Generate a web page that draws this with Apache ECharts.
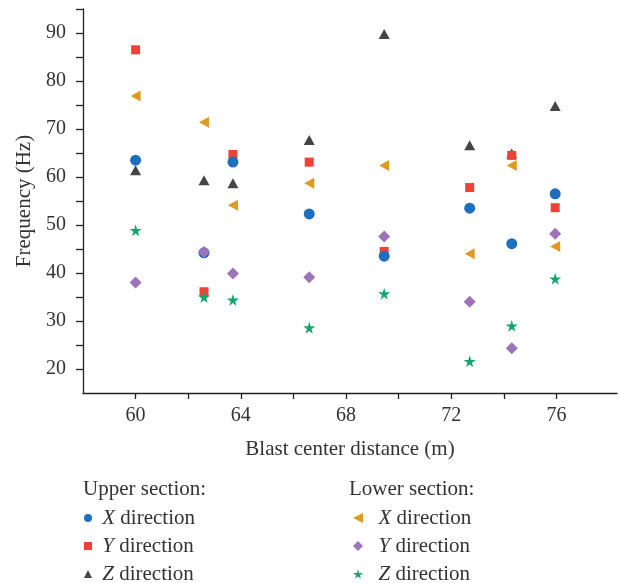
<!DOCTYPE html>
<html>
<head>
<meta charset="utf-8">
<script src="https://cdn.jsdelivr.net/npm/echarts@6/dist/echarts.min.js"></script>
<style>
  html, body { margin: 0; padding: 0; background: #fff; }
  #chart { width: 619px; height: 583px; }
</style>
</head>
<body>
<div id="chart"></div>
<script>
// blast center distance (m)
var distances = [60, 62.6, 63.7, 66.6, 69.45, 72.7, 74.3, 75.95]

// frequency (Hz)
var upperX = [63.5, 44.2, 63.1, 52.3, 43.5, 53.5, 46.1, 56.5]
var upperY = [86.5, 36.1, 64.7, 63.1, 44.5, 57.8, 64.5, 53.6]
var upperZ = [61.4, 59.3, 58.7, 67.7, 89.8, 66.6, 64.9, 74.8]
var lowerX = [76.9, 71.4, 54.1, 58.7, 62.4, 44.0, 62.4, 45.5]
var lowerY = [38.0, 44.4, 39.9, 39.1, 47.6, 34.0, 24.3, 48.2]
var lowerZ = [48.9, 35.0, 34.4, 28.6, 35.7, 21.6, 29.0, 38.8]

var xLabels = [60, 64, 68, 72, 76]
var xTicks = [60, 62, 64, 66, 68, 70, 72, 74, 76]
var yLabels = [20, 30, 40, 50, 60, 70, 80, 90]
var yTicks = [20, 25, 30, 35, 40, 45, 50, 55, 60, 65, 70, 75, 80, 85, 90, 95]

var FONT = 'Liberation Serif'
var TEXT = '#333333'
var AXIS = '#222222'

var leftTri = 'path://M0,5L10,0L10,10Z'
var star = 'path://M50,0L61,35L98,35L68,57L79,91L50,70L21,91L32,57L2,35L39,35Z'

function pairs(ys) {
  return distances.map(function (d, i) { return [d, ys[i]] })
}

function dirLabel(name) {
  var axis = name.split(' ')[1]
  return ' {i|' + axis + '}{t| direction}'
}

var richText = {
  i: { fontFamily: FONT, fontSize: 21, lineHeight: 19, fontStyle: 'italic', color: TEXT },
  t: { fontFamily: FONT, fontSize: 21, lineHeight: 19, color: TEXT }
}

var chart = echarts.init(document.getElementById('chart'))

chart.setOption({
  animation: false,
  textStyle: { fontFamily: FONT, color: TEXT },
  title: [
    { text: 'Upper section:', left: 83, top: 479, padding: 0,
      textStyle: { fontFamily: FONT, fontSize: 21, fontWeight: 'normal', color: TEXT } },
    { text: 'Lower section:', left: 349, top: 479, padding: 0,
      textStyle: { fontFamily: FONT, fontSize: 21, fontWeight: 'normal', color: TEXT } }
  ],
  legend: [
    {
      data: ['Upper X', 'Upper Y', 'Upper Z'],
      orient: 'vertical',
      left: 84,
      top: 507.5,
      height: 90,
      padding: 0,
      itemWidth: 8,
      itemHeight: 8,
      itemGap: 7,
      formatter: dirLabel,
      textStyle: { fontFamily: FONT, fontSize: 21, lineHeight: 19, color: TEXT, rich: richText }
    },
    {
      data: ['Lower X', 'Lower Y', 'Lower Z'],
      orient: 'vertical',
      left: 353,
      top: 507.5,
      height: 90,
      padding: 0,
      itemWidth: 10,
      itemHeight: 10,
      itemGap: 7,
      formatter: function (name) { return ' ' + dirLabel(name) },
      textStyle: { fontFamily: FONT, fontSize: 21, lineHeight: 19, color: TEXT, rich: richText }
    }
  ],
  grid: { left: 83, right: 2, top: 9, bottom: 190, containLabel: false },
  xAxis: {
    type: 'value',
    min: 58,
    max: 78.3,
    interval: 2,
    name: 'Blast center distance (m)',
    nameLocation: 'middle',
    nameGap: 46,
    nameTextStyle: { fontFamily: FONT, fontSize: 21, lineHeight: 21, color: TEXT },
    splitLine: { show: false },
    axisLine: { lineStyle: { color: AXIS, width: 1.3 } },
    axisTick: { customValues: xTicks, length: 6, lineStyle: { color: AXIS, width: 1.3 } },
    axisLabel: { customValues: xLabels, margin: 13, fontFamily: FONT, fontSize: 20, color: TEXT }
  },
  yAxis: {
    type: 'value',
    min: 15,
    max: 95,
    interval: 5,
    name: 'Frequency (Hz)',
    nameLocation: 'middle',
    nameGap: 48,
    nameTextStyle: { fontFamily: FONT, fontSize: 21, lineHeight: 21, color: TEXT },
    splitLine: { show: false },
    axisLine: { show: true, lineStyle: { color: AXIS, width: 1.3 } },
    axisTick: { show: true, customValues: yTicks, length: 7, lineStyle: { color: AXIS, width: 1.3 } },
    axisLabel: { customValues: yLabels, margin: 17, fontFamily: FONT, fontSize: 20, color: TEXT }
  },
  series: [
    { name: 'Upper Z', type: 'scatter', symbol: 'triangle', symbolSize: [11, 10],
      itemStyle: { color: '#454545', opacity: 1 }, data: pairs(upperZ) },
    { name: 'Upper Y', type: 'scatter', symbol: 'rect', symbolSize: 9,
      itemStyle: { color: '#ef4136', opacity: 1 }, data: pairs(upperY) },
    { name: 'Upper X', type: 'scatter', symbol: 'circle', symbolSize: 11,
      itemStyle: { color: '#1e6fbf', opacity: 1 }, data: pairs(upperX) },
    { name: 'Lower X', type: 'scatter', symbol: leftTri, symbolSize: [10, 11],
      itemStyle: { color: '#df9b20', opacity: 1 }, data: pairs(lowerX) },
    { name: 'Lower Y', type: 'scatter', symbol: 'diamond', symbolSize: 12,
      itemStyle: { color: '#9d74b7', opacity: 1 }, data: pairs(lowerY) },
    { name: 'Lower Z', type: 'scatter', symbol: star, symbolSize: 12,
      itemStyle: { color: '#12a86b', opacity: 1 }, data: pairs(lowerZ) }
  ]
})
</script>
</body>
</html>
